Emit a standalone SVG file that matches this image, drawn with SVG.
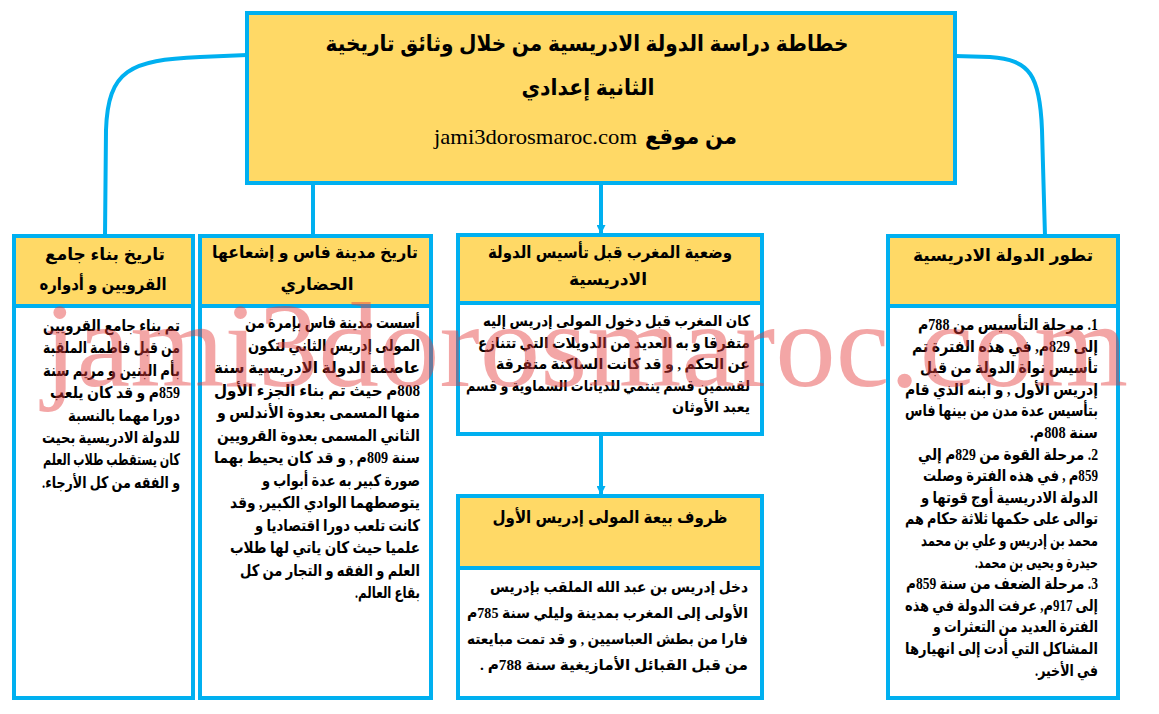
<svg xmlns="http://www.w3.org/2000/svg" width="1159" height="714" viewBox="0 0 1159 714">
<defs>
<style>
.hdr{fill:#ffd966;stroke:#00b0f0;stroke-width:4}
.bdy{fill:#ffffff;stroke:#00b0f0;stroke-width:4}
.con{fill:none;stroke:#00b0f0;stroke-width:4}
.t{font-family:"Liberation Serif","DejaVu Sans",serif;fill:#000;direction:rtl}
.h{font-family:"Liberation Sans","DejaVu Sans",sans-serif;font-weight:bold;font-size:17px;fill:#000;direction:rtl;text-anchor:middle}
.tt{font-family:"Liberation Sans","DejaVu Sans",sans-serif;font-weight:bold;font-size:22px;fill:#000;direction:rtl;text-anchor:middle}
.r{text-anchor:start}
.bb{font-weight:bold;font-size:16px}
.nb{font-weight:bold;font-size:15px}
.wm{font-family:"Liberation Serif",serif;font-size:120px;fill:#e63b3b;opacity:0.45}
</style>
<marker id="arr" viewBox="0 0 10 10" refX="10" refY="5" markerUnits="userSpaceOnUse" markerWidth="11" markerHeight="9" orient="auto">
<path d="M0,0 L10,5 L0,10 z" fill="#00b0f0"/>
</marker>
</defs>
<rect width="1159" height="714" fill="#ffffff"/>

<g id="connectors">
<path class="con" d="M247 55 L200 57 C130 60 108 70 106 130 L105 236"/>
<path class="con" d="M955 56 L990 57 C1030 60 1040 75 1042 130 L1045 236"/>
<path class="con" d="M313 183 L313 236"/>
<path class="con" d="M601 183 L601 234" marker-end="url(#arr)"/>
<path class="con" d="M601 434 L601 495" marker-end="url(#arr)"/>
</g>

<g id="title">
<rect class="hdr" x="247" y="13" width="708" height="170"/>
<text class="tt" x="587" y="51" textLength="523" lengthAdjust="spacingAndGlyphs">خطاطة دراسة الدولة الادريسية من خلال وثائق تاريخية</text>
<text class="tt" x="588" y="95" textLength="133" lengthAdjust="spacingAndGlyphs">الثانية إعدادي</text>
<text class="tt" x="737" y="144" style="text-anchor:start" textLength="92" lengthAdjust="spacingAndGlyphs">من موقع</text>
<text x="637" y="144" font-family="Liberation Serif, serif" font-size="22" text-anchor="end" fill="#000" textLength="203" lengthAdjust="spacingAndGlyphs">jami3dorosmaroc.com</text>
</g>

<g id="node-tatawor">
<rect class="hdr" x="888" y="236" width="230" height="70"/>
<rect class="bdy" x="888" y="306" width="230" height="392"/>
<text class="h" x="1003" y="261">تطور الدولة الادريسية</text>
<g class="t r bb">
<text x="1098" y="330" textLength="180" lengthAdjust="spacingAndGlyphs">1. مرحلة التأسيس من 788م</text>
<text x="1098" y="351.6" textLength="186" lengthAdjust="spacingAndGlyphs">إلى 829م, في هذه الفترة تم</text>
<text x="1098" y="373.2" textLength="178" lengthAdjust="spacingAndGlyphs">تأسيس نواة الدولة من قبل</text>
<text x="1098" y="394.8" textLength="193" lengthAdjust="spacingAndGlyphs">إدريس الأول , و ابنه الذي قام</text>
<text x="1098" y="416.4" textLength="193" lengthAdjust="spacingAndGlyphs">بتأسيس عدة مدن من بينها فاس</text>
<text x="1098" y="438" textLength="68" lengthAdjust="spacingAndGlyphs">سنة 808م.</text>
<text x="1098" y="459.6" textLength="180" lengthAdjust="spacingAndGlyphs">2. مرحلة القوة من 829م إلي</text>
<text x="1098" y="481.2" textLength="175" lengthAdjust="spacingAndGlyphs">859م , في هذه الفترة وصلت</text>
<text x="1098" y="502.8" textLength="177" lengthAdjust="spacingAndGlyphs">الدولة الادريسية أوج قوتها و</text>
<text x="1098" y="524.4" textLength="193" lengthAdjust="spacingAndGlyphs">توالى على حكمها ثلاثة حكام هم</text>
<text x="1098" y="546" textLength="177" lengthAdjust="spacingAndGlyphs">محمد بن إدريس و علي بن محمد</text>
<text x="1098" y="567.6" textLength="123" lengthAdjust="spacingAndGlyphs">حيدرة و يحيى بن محمد.</text>
<text x="1098" y="589.2" textLength="192" lengthAdjust="spacingAndGlyphs">3. مرحلة الضعف من سنة 859م</text>
<text x="1098" y="610.8" textLength="193" lengthAdjust="spacingAndGlyphs">إلى 917م, عرفت الدولة في هذه</text>
<text x="1098" y="632.4" textLength="165" lengthAdjust="spacingAndGlyphs">الفترة العديد من التعثرات و</text>
<text x="1098" y="654" textLength="193" lengthAdjust="spacingAndGlyphs">المشاكل التي أدت إلى انهيارها</text>
<text x="1098" y="675.6" textLength="63" lengthAdjust="spacingAndGlyphs">في الأخير.</text>
</g>
</g>

<g id="node-wadiya">
<rect class="hdr" x="458" y="235" width="304" height="68"/>
<rect class="bdy" x="458" y="303" width="304" height="131"/>
<text class="h" x="610" y="258" textLength="244" lengthAdjust="spacingAndGlyphs">وضعية المغرب قبل تأسيس الدولة</text>
<text class="h" x="608" y="285">الادريسية</text>
<g class="t r nb">
<text x="750" y="326" textLength="267" lengthAdjust="spacingAndGlyphs">كان المغرب قبل دخول المولى إدريس إليه</text>
<text x="750" y="347.5" textLength="272" lengthAdjust="spacingAndGlyphs">متفرقا و به العديد من الدويلات التي تتنازع</text>
<text x="750" y="369" textLength="254" lengthAdjust="spacingAndGlyphs">عن الحكم , و قد كانت الساكنة متفرقة</text>
<text x="750" y="390.5" textLength="284" lengthAdjust="spacingAndGlyphs">لقسمين قسم ينتمي للديانات السماوية و قسم</text>
<text x="750" y="412" textLength="78" lengthAdjust="spacingAndGlyphs">يعبد الأوثان</text>
</g>
</g>

<g id="node-bayaa">
<rect class="hdr" x="458" y="496" width="304" height="72"/>
<rect class="bdy" x="458" y="568" width="304" height="130"/>
<text class="h" x="610" y="523" textLength="235" lengthAdjust="spacingAndGlyphs">ظروف بيعة المولى إدريس الأول</text>
<g class="t r nb">
<text x="748" y="592" textLength="258" lengthAdjust="spacingAndGlyphs">دخل إدريس بن عبد الله الملقب بإدريس</text>
<text x="748" y="618" textLength="281" lengthAdjust="spacingAndGlyphs">الأولى إلى المغرب بمدينة وليلي سنة 785م</text>
<text x="748" y="644" textLength="281" lengthAdjust="spacingAndGlyphs">فارا من بطش العباسيين , و قد تمت مبايعته</text>
<text x="748" y="670" textLength="268" lengthAdjust="spacingAndGlyphs">من قبل القبائل الأمازيغية سنة 788م .</text>
</g>
</g>

<g id="node-fes">
<rect class="hdr" x="200" y="236" width="231" height="70"/>
<rect class="bdy" x="200" y="306" width="231" height="392"/>
<text class="h" x="315" y="258" textLength="206" lengthAdjust="spacingAndGlyphs">تاريخ مدينة فاس و إشعاعها</text>
<text class="h" x="317" y="290">الحضاري</text>
<g class="t r bb">
<text x="420" y="328" textLength="175" lengthAdjust="spacingAndGlyphs">أسست مدينة فاس بإمرة من</text>
<text x="420" y="350.5" textLength="172" lengthAdjust="spacingAndGlyphs">المولى إدريس الثاني لتكون</text>
<text x="420" y="373" textLength="206" lengthAdjust="spacingAndGlyphs">عاصمة الدولة الادريسية سنة</text>
<text x="420" y="395.5" textLength="206" lengthAdjust="spacingAndGlyphs">808م حيث تم بناء الجزء الأول</text>
<text x="420" y="418" textLength="203" lengthAdjust="spacingAndGlyphs">منها المسمى بعدوة الأندلس و</text>
<text x="420" y="440.5" textLength="203" lengthAdjust="spacingAndGlyphs">الثاني المسمى بعدوة القرويين</text>
<text x="420" y="463" textLength="206" lengthAdjust="spacingAndGlyphs">سنة 809م , و قد كان يحيط بهما</text>
<text x="420" y="485.5" textLength="158" lengthAdjust="spacingAndGlyphs">صورة كبير به عدة أبواب و</text>
<text x="420" y="508" textLength="190" lengthAdjust="spacingAndGlyphs">يتوصطهما الوادي الكبير, وقد</text>
<text x="420" y="530.5" textLength="165" lengthAdjust="spacingAndGlyphs">كانت تلعب دورا اقتصاديا و</text>
<text x="420" y="553" textLength="190" lengthAdjust="spacingAndGlyphs">علميا حيث كان ياتي لها طلاب</text>
<text x="420" y="575.5" textLength="180" lengthAdjust="spacingAndGlyphs">العلم و الفقه و التجار من كل</text>
<text x="420" y="598" textLength="65" lengthAdjust="spacingAndGlyphs">بقاع العالم.</text>
</g>
</g>

<g id="node-qarawiyyin">
<rect class="hdr" x="14" y="236" width="179" height="70"/>
<rect class="bdy" x="14" y="306" width="179" height="392"/>
<text class="h" x="105" y="260">تاريخ بناء جامع</text>
<text class="h" x="103" y="290" textLength="127" lengthAdjust="spacingAndGlyphs">القرويين و أدواره</text>
<g class="t r bb">
<text x="180" y="331" textLength="137" lengthAdjust="spacingAndGlyphs">تم بناء جامع القرويين</text>
<text x="180" y="353.4" textLength="137" lengthAdjust="spacingAndGlyphs">من قبل فاطمة الملقبة</text>
<text x="180" y="375.8" textLength="137" lengthAdjust="spacingAndGlyphs">بأم البنين و مريم سنة</text>
<text x="180" y="398.2" textLength="130" lengthAdjust="spacingAndGlyphs">859م و قد كان يلعب</text>
<text x="180" y="420.6" textLength="112" lengthAdjust="spacingAndGlyphs">دورا مهما بالنسبة</text>
<text x="180" y="443" textLength="138" lengthAdjust="spacingAndGlyphs">للدولة الادريسية بحيت</text>
<text x="180" y="465.4" textLength="137" lengthAdjust="spacingAndGlyphs">كان يستقطب طلاب العلم</text>
<text x="180" y="487.8" textLength="138" lengthAdjust="spacingAndGlyphs">و الفقه من كل الأرجاء.</text>
</g>
</g>

<text class="wm" x="43" y="386" textLength="1085" lengthAdjust="spacingAndGlyphs">jami3dorosmaroc.com</text>
</svg>
